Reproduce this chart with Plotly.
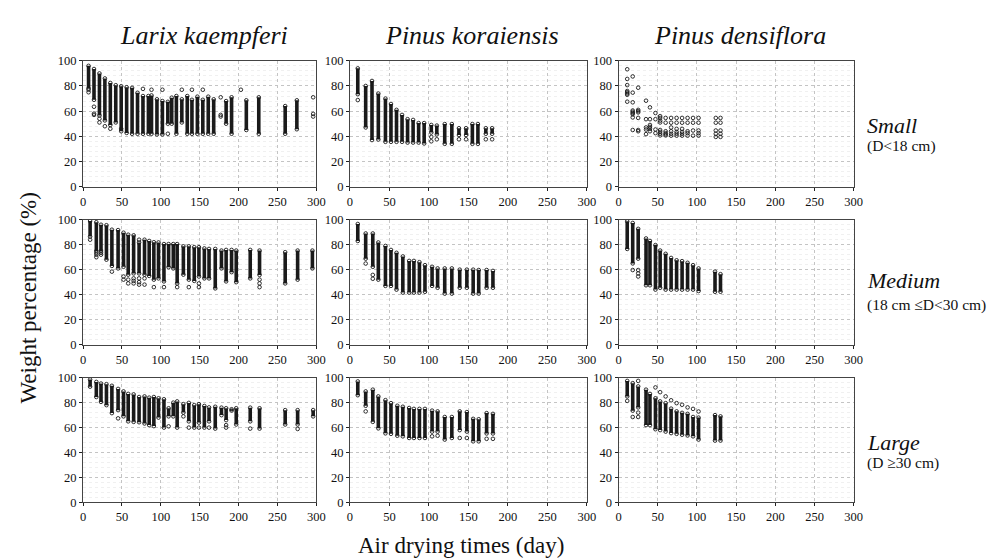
import plotly.graph_objects as go
from plotly.subplots import make_subplots

# ---------------- data (weight percentage range per sampling day) ----------------
species = ["Larix kaempferi", "Pinus koraiensis", "Pinus densiflora"]
size_names = ["Small", "Medium", "Large"]
size_notes = ["(D<18 cm)", "(18 cm ≤D<30 cm)", "(D ≥30 cm)"]
x_ticks = [0, 50, 100, 150, 200, 250, 300]
y_ticks = [0, 20, 40, 60, 80, 100]

# Larix kaempferi - Small
lk_s_days = [7, 14, 21, 28, 35, 42, 49, 56, 63, 70, 77, 84, 88, 95, 102, 109, 114, 120, 127, 134, 140, 147, 154, 161, 168, 184, 191, 210, 226, 260, 275]
lk_s_lo = [78, 69, 56.5, 52.6, 49, 51, 44, 42.7, 42, 42, 42, 42, 42, 41.5, 41.5, 50, 50, 42, 51, 42, 42, 42, 42, 42, 42, 50, 42, 45, 42, 42, 45.6]
lk_s_hi = [96, 93.5, 90, 86, 82.4, 80.6, 79.8, 79, 78.5, 74.6, 72, 72, 72.5, 69.4, 68, 67.4, 70.7, 72, 69.4, 72, 69, 71.5, 69, 71.5, 69.4, 68, 71, 68.6, 71, 64, 68.6]
lk_s_ex_day = [7, 7, 14, 14, 14, 21, 21, 28, 35, 49, 77, 88, 102, 109, 127, 140, 154, 177, 177, 177, 203, 296, 296, 296]
lk_s_ex_val = [75, 77, 63.5, 58, 57, 54, 51, 48, 46, 46, 77.7, 77, 77, 42, 77, 77, 77, 71, 57, 55.7, 77, 71, 57.8, 55.7]

# Pinus koraiensis - Small
pk_s_days = [10, 20, 28, 36, 45, 52, 59, 66, 73, 80, 87, 94, 103, 110, 120, 129, 138, 147, 155, 162, 172, 180]
pk_s_lo = [73.5, 47, 37, 37.4, 35.6, 35.6, 35.6, 35.6, 35, 35, 35, 34.3, 43, 41.5, 34, 34, 41, 41, 34, 34, 42, 42]
pk_s_hi = [94, 80, 84, 74, 70, 65.7, 61, 57, 53.6, 53, 50.5, 50.5, 49, 48.5, 49.7, 49.7, 46.4, 46.4, 49.7, 49.7, 46.4, 46.4]
pk_s_ex_day = [10, 103, 103, 110, 138, 147, 172, 180]
pk_s_ex_val = [68.8, 39.5, 36, 37.6, 37.6, 37.6, 37.6, 37.6]

# Pinus densiflora - Small (sparse: individual logs per day)
pd_s_days = [11, 18, 25, 35, 40, 47, 53, 60, 67, 74, 81, 88, 95, 102, 124, 130]
pd_s_values = [
    [93.3, 85.6, 80.7, 76, 75, 74, 73, 67.5],
    [87.6, 74.7, 67, 60.5, 59.5, 58.5, 57.5, 55, 45],
    [78.6, 61, 60, 59, 54.6, 45, 44],
    [68.3, 53.6, 47, 45.4, 41.7],
    [63, 53.6, 49, 47.5, 46, 44],
    [58.5, 53.6, 45.4, 42.5],
    [56, 54.6, 52.5, 51, 45, 43.5, 42, 40.7],
    [54.6, 50.8, 44, 42.5, 41.5, 40.7],
    [54.6, 50.8, 47, 44, 42, 40.5],
    [54.6, 50.8, 45.9, 43.5, 42, 40.5],
    [54.6, 50.8, 45.9, 43.5, 42, 40.5],
    [54.6, 50.8, 44, 42.5, 40.5],
    [54.6, 50.8, 44.6, 40.5],
    [54.6, 50.8, 44.6, 42.5, 40.5],
    [54.6, 50.8, 44.6, 42, 39.5],
    [54.6, 50.8, 44.6, 42, 39.5],
]

# Larix kaempferi - Medium
lk_m_days = [9, 17, 23, 30, 37, 45, 52, 58, 65, 72, 79, 85, 91, 97, 104, 110, 116, 121, 129, 136, 143, 149, 156, 162, 170, 178, 184, 191, 197, 215, 227, 260, 276, 295]
lk_m_lo = [86.5, 75, 75, 68, 63, 61, 62.3, 56, 57, 57, 56, 55, 52, 53, 50.6, 62, 61, 49, 56, 52, 51, 54.5, 53, 53, 45, 61, 50.6, 58, 50, 53, 55.8, 49, 52, 61]
lk_m_hi = [99, 98, 96, 95.6, 92, 91.7, 89.6, 88, 87.5, 81.8, 84, 83, 82, 81.8, 80.5, 80.5, 80.5, 80.5, 78.7, 78.7, 78, 78, 77, 76.6, 76.6, 75.3, 75.8, 75.8, 75.3, 75.8, 75.3, 74, 75.3, 75.3]
lk_m_ex_day = [9, 17, 17, 17, 23, 23, 37, 52, 52, 58, 58, 65, 65, 65, 72, 72, 72, 72, 79, 79, 91, 104, 121, 136, 149, 149, 227, 227, 227]
lk_m_ex_val = [84, 73.5, 72, 70, 73.5, 72, 58.4, 54.5, 52, 52, 49, 53, 51, 49, 84, 53, 50, 48, 53, 48, 46, 46, 46, 46, 49, 46, 52, 49, 46]

# Pinus koraiensis - Medium
pk_m_days = [10, 20, 29, 36, 45, 52, 59, 67, 75, 81, 88, 95, 104, 111, 120, 129, 139, 148, 156, 163, 173, 181]
pk_m_lo = [83, 68.8, 62.3, 52, 47, 47, 44, 41.6, 41.6, 41.6, 41.6, 42.3, 47, 45.5, 40.8, 40.8, 45.5, 45.5, 40.8, 40.8, 45.5, 45.5]
pk_m_hi = [96.6, 89, 89, 81.8, 79, 75.8, 73.5, 70.6, 67, 67, 66, 63.6, 62.3, 61, 61, 61, 60, 60, 60, 59.7, 59.7, 59]
pk_m_ex_day = [20, 29, 29]
pk_m_ex_val = [64.9, 55.8, 52.7]

# Pinus densiflora - Medium
pd_m_days = [11, 18, 25, 35, 40, 47, 53, 60, 67, 74, 81, 88, 95, 102, 123, 130]
pd_m_lo = [76.6, 65, 68.8, 47.5, 47.5, 44, 45.5, 44, 44, 44, 44, 44, 44, 42.9, 42.3, 42.3]
pd_m_hi = [98.7, 97.4, 92.7, 85, 83, 79.7, 75.3, 72.7, 69.4, 67.5, 66.8, 65.5, 63.6, 61, 58.4, 56.4]
pd_m_ex_day = [18, 25, 25, 25]
pd_m_ex_val = [59.7, 59.7, 57, 54.5]

# Larix kaempferi - Large
lk_l_days = [9, 17, 23, 30, 37, 45, 52, 58, 65, 72, 79, 85, 91, 97, 104, 110, 116, 121, 129, 136, 143, 149, 156, 162, 170, 178, 184, 191, 197, 215, 227, 260, 276, 296]
lk_l_lo = [92.8, 84.5, 80.6, 78, 71.6, 74, 69, 65, 64.6, 64.3, 63.3, 62, 61.2, 68, 60, 69, 69, 60, 72, 65, 60, 64, 60, 65, 59.2, 70, 66, 73.6, 62.5, 65, 59.2, 62.5, 62.5, 69]
lk_l_hi = [98.5, 96.6, 95.3, 94.8, 93.5, 91, 89, 87, 86.6, 84.5, 85, 84, 84.5, 83.5, 82.7, 75.5, 80, 81, 78.8, 79.8, 78, 78.8, 77.3, 76.2, 76.7, 76, 75.5, 74.7, 75.5, 76, 75.5, 74, 74, 74]
lk_l_ex_day = [45, 110, 129, 136, 149, 162, 184, 184, 215, 276]
lk_l_ex_val = [67.4, 61, 69, 60, 60, 60, 62, 60, 59.2, 58.9]

# Pinus koraiensis - Large
pk_l_days = [10, 20, 29, 36, 45, 52, 60, 67, 75, 81, 88, 95, 104, 111, 120, 129, 139, 148, 156, 163, 173, 181]
pk_l_lo = [86, 77.5, 64.6, 59.4, 55.4, 55, 53.5, 53, 51.7, 51.7, 51.7, 51.7, 56.8, 56.8, 50.4, 51.7, 58, 56.8, 49, 49, 55.3, 55.3]
pk_l_hi = [97, 89, 90.4, 85, 82, 79.6, 77.5, 76.7, 75.7, 75, 75, 75, 73.6, 73, 68.5, 68.5, 73, 72.4, 67, 66.7, 71.6, 71]
pk_l_ex_day = [20, 104, 111, 139, 148, 173, 181]
pk_l_ex_val = [73, 53, 53.5, 51.7, 51.7, 51, 51]

# Pinus densiflora - Large
pd_l_days = [11, 18, 25, 35, 40, 47, 53, 60, 67, 74, 81, 88, 95, 102, 123, 130]
pd_l_lo = [85, 73.6, 76.2, 62, 62, 58.7, 58, 56.8, 55.6, 55, 54.3, 53.7, 53, 50.4, 49.6, 49.6]
pd_l_hi = [97.4, 95.6, 93, 90.4, 87, 83.5, 81, 79.6, 75.2, 73, 71.8, 71, 68.5, 68, 70, 69]
pd_l_ex_day = [11, 18, 25, 25, 25, 47, 53, 60, 67, 74, 81, 88, 95, 102]
pd_l_ex_val = [81.4, 68.5, 97.4, 72, 68.5, 92.2, 88.4, 85, 81.9, 79.6, 78.3, 76.2, 75, 72.9]

# ---------------- figure ----------------
W, H = 998, 559
FONT = '"Liberation Serif", "Times New Roman", Times, serif'
INK = "#1a1a1a"

fig = make_subplots(rows=3, cols=3)

col_px = [(73, 309), (343, 583), (615, 853)]
row_px = [(47, 176), (210, 338), (372, 500)]


def add_panel(r, c, days, lo, hi, ex_day, ex_val):
    xs, ys = [], []
    for d, a, b in zip(days, lo, hi):
        xs += [d, d, None]
        ys += [a, b, None]
    if xs:
        fig.add_trace(go.Scatter(x=xs, y=ys, mode="lines", line=dict(color=INK, width=3.6),
                                 hoverinfo="skip", showlegend=False), row=r, col=c)
    mx = list(days) + list(days) + list(ex_day)
    my = list(lo) + list(hi) + list(ex_val)
    fig.add_trace(go.Scatter(x=mx, y=my, mode="markers",
                             marker=dict(symbol="circle-open", size=3.6, color=INK, line=dict(width=0.9, color=INK)),
                             showlegend=False), row=r, col=c)


pd_s_ex_day = [d for d, vals in zip(pd_s_days, pd_s_values) for _ in vals]
pd_s_ex_val = [v for vals in pd_s_values for v in vals]

add_panel(1, 1, lk_s_days, lk_s_lo, lk_s_hi, lk_s_ex_day, lk_s_ex_val)
add_panel(1, 2, pk_s_days, pk_s_lo, pk_s_hi, pk_s_ex_day, pk_s_ex_val)
add_panel(1, 3, [], [], [], pd_s_ex_day, pd_s_ex_val)
add_panel(2, 1, lk_m_days, lk_m_lo, lk_m_hi, lk_m_ex_day, lk_m_ex_val)
add_panel(2, 2, pk_m_days, pk_m_lo, pk_m_hi, pk_m_ex_day, pk_m_ex_val)
add_panel(2, 3, pd_m_days, pd_m_lo, pd_m_hi, pd_m_ex_day, pd_m_ex_val)
add_panel(3, 1, lk_l_days, lk_l_lo, lk_l_hi, lk_l_ex_day, lk_l_ex_val)
add_panel(3, 2, pk_l_days, pk_l_lo, pk_l_hi, pk_l_ex_day, pk_l_ex_val)
add_panel(3, 3, pd_l_days, pd_l_lo, pd_l_hi, pd_l_ex_day, pd_l_ex_val)

for r in range(3):
    for c in range(3):
        x0, x1 = col_px[c]
        y0, y1 = row_px[r]
        fig.update_xaxes(row=r + 1, col=c + 1, domain=[x0 / W, x1 / W], range=[0, 300],
                         tickvals=x_ticks, ticks="outside", ticklen=3, tickcolor="#222",
                         showline=True, linecolor="#444", linewidth=1, mirror=True,
                         showgrid=True, gridcolor="#c4c4c4", griddash="dot", gridwidth=1,
                         zeroline=False, tickfont=dict(family=FONT, size=12.5, color="#111"))
        fig.update_yaxes(row=r + 1, col=c + 1, domain=[1 - y1 / H, 1 - y0 / H], range=[0, 100],
                         tickvals=y_ticks, ticks="outside", ticklen=3, tickcolor="#222",
                         showline=True, linecolor="#444", linewidth=1, mirror=True,
                         showgrid=True, gridcolor="#c4c4c4", griddash="dot", gridwidth=1,
                         minor=dict(dtick=4, showgrid=True, gridcolor="#f0f0f0", gridwidth=1),
                         zeroline=False, tickfont=dict(family=FONT, size=12.5, color="#111"))

ann = []
for c, name in enumerate(species):
    cx = (col_px[c][0] + col_px[c][1]) / 2 / W + 4 / W
    ann.append(dict(text=f"<i>{name}</i>", x=cx, y=1 - 21 / H, xref="paper", yref="paper",
                    showarrow=False, xanchor="center", yanchor="middle",
                    font=dict(family=FONT, size=26, color="#111")))
size_y = [(113, 134), (272, 297), (438, 460)]
for r in range(3):
    ann.append(dict(text=f"<i>{size_names[r]}</i>", x=864 / W, y=1 - size_y[r][0] / H, xref="paper", yref="paper",
                    showarrow=False, xanchor="left", yanchor="middle",
                    font=dict(family=FONT, size=22, color="#111")))
    ann.append(dict(text=size_notes[r], x=864 / W, y=1 - size_y[r][1] / H, xref="paper", yref="paper",
                    showarrow=False, xanchor="left", yanchor="middle",
                    font=dict(family=FONT, size=15.5, color="#111")))
ann.append(dict(text="Weight percentage (%)", x=18 / W, y=1 - 290 / H, xref="paper", yref="paper",
                showarrow=False, textangle=-90, xanchor="center", yanchor="middle",
                font=dict(family=FONT, size=23, color="#111")))
ann.append(dict(text="Air drying times (day)", x=455 / W, y=1 - 544 / H, xref="paper", yref="paper",
                showarrow=False, xanchor="center", yanchor="middle",
                font=dict(family=FONT, size=23, color="#111")))

fig.update_layout(width=W, height=H, margin=dict(l=0, r=0, t=0, b=0),
                  paper_bgcolor="white", plot_bgcolor="white", annotations=ann,
                  showlegend=False, font=dict(family=FONT, color="#111"))

fig.write_html("out.html")
